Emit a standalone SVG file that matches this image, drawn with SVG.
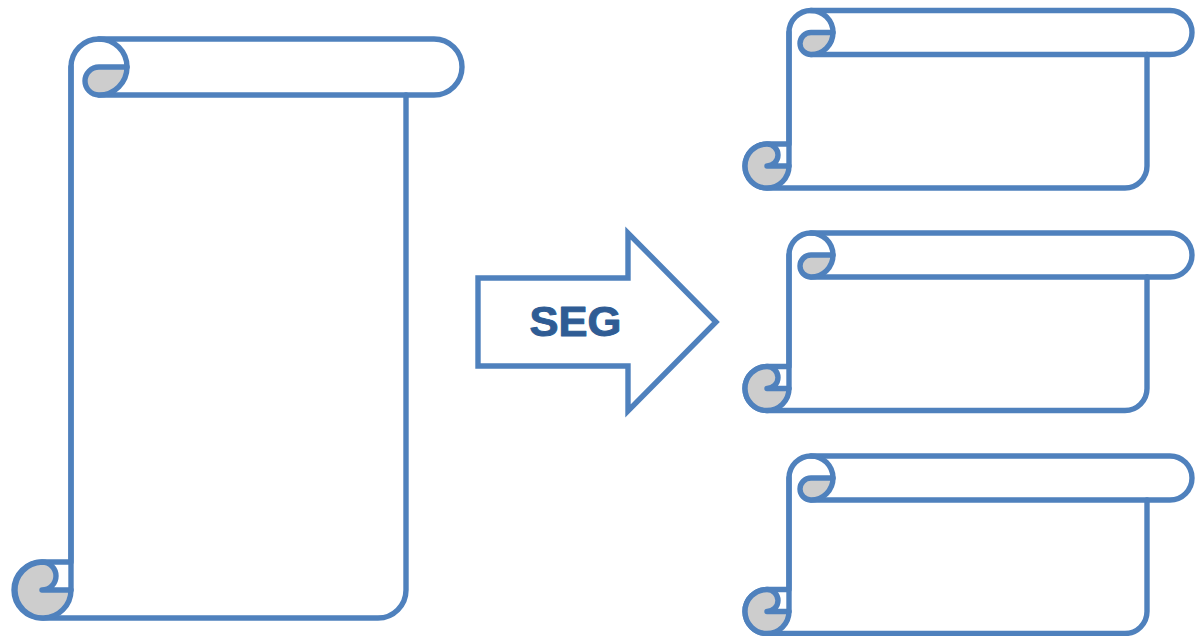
<svg xmlns="http://www.w3.org/2000/svg" width="1195" height="636" viewBox="0 0 1195 636">
<style>
.o{fill:#fff;stroke:#4f81bd;stroke-width:5.4;stroke-linejoin:round;stroke-linecap:round}
.g{fill:#cdcdcd;stroke:#4f81bd;stroke-width:5.4;stroke-linejoin:round;stroke-linecap:round}
.n{fill:none;stroke:#4f81bd;stroke-width:5.4;stroke-linejoin:round;stroke-linecap:round}
.a{fill:#fff;stroke:#4f81bd;stroke-width:5.4;stroke-linejoin:miter;stroke-miterlimit:8}
.t{font-family:"Liberation Sans",Arial,sans-serif;font-size:43px;font-weight:bold;fill:#2f5c94;stroke:#2f5c94;stroke-width:1;stroke-linejoin:round}
</style>
<defs>
<g id="small">
<path class="o" d="M0,22 A22,22 0 0 1 22,0 H381 A22,22 0 0 1 381,44 H358 V155.500 A22,22 0 0 1 336,177.500 H-22 A22,22 0 0 1 -22,133.500 H0 Z"/>
<path class="n" d="M22,44 H358"/>
<path class="g" d="M22,22 H44 A22,22 0 0 1 22,44 A11,11 0 0 1 22,22 Z"/>
<path class="n" d="M22,0 A22,22 0 0 1 44,22"/>
<path class="g" d="M-22,155.500 A11,11 0 0 0 -22,133.500 A22,22 0 1 0 0,155.500 Z"/>
<path class="n" d="M0,22 V155.500"/>
</g>
</defs>
<g id="scroll-large">
<path class="o" d="M71,67 A28,28 0 0 1 99,39 H434 A28,28 0 0 1 434,95 H406 V590 A28,28 0 0 1 378,618 H42 A28,28 0 0 1 42,562 H71 Z"/>
<path class="n" d="M99,95 H406"/>
<path class="g" d="M99,67 H127 A28,28 0 0 1 99,95 A14,14 0 0 1 99,67 Z"/>
<path class="n" d="M99,39 A28,28 0 0 1 127,67"/>
<path class="g" d="M42,590 A14,14 0 0 0 42,562 A28,28 0 1 0 71,590 Z"/>
<path class="n" d="M71,67 V590"/>
</g>
<g id="scroll-top"><use href="#small" x="789" y="10.500"/></g>
<g id="scroll-middle"><use href="#small" x="789" y="233"/></g>
<g id="scroll-bottom"><use href="#small" x="789" y="456"/></g>
<g id="connectors">
<g id="arrow-seg">
<path class="a" d="M478,278 H628 V233 L716,322 L628,411 V366 H478 Z"/>
<text class="t" x="575.5" y="336" text-anchor="middle" textLength="92" lengthAdjust="spacingAndGlyphs">SEG</text>
</g>
</g>
</svg>
